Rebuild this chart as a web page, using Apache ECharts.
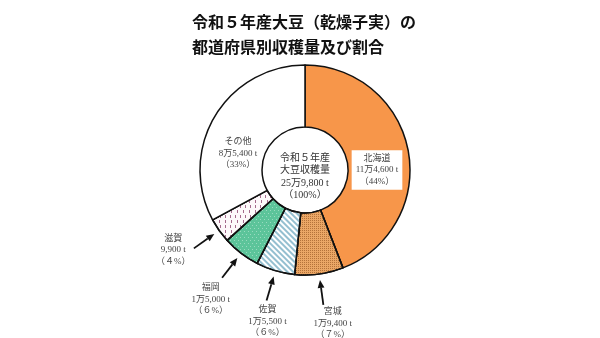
<!DOCTYPE html>
<html><head><meta charset="utf-8">
<script src="https://cdn.jsdelivr.net/npm/echarts@6/dist/echarts.min.js"></script>
<style>html,body{margin:0;padding:0;background:#fff}#c{width:600px;height:338px}</style>
</head><body><div id="c"></div>
<script>
// ---- data ----
const categories = ['北海道', '宮城', '佐賀', '福岡', '滋賀', 'その他'];
const values = [114600, 19400, 15500, 15000, 9900, 85400];
const titleLines = ['令和５年産大豆（乾燥子実）の', '都道府県別収穫量及び割合'];
const centerLines = ['令和５年産', '大豆収穫量'];

// ---- layout ----
const CX = 305, CY = 170, R0 = 43, R1 = 105;
const FONT = '"Liberation Serif", "Noto Sans CJK JP", serif';
const total = values.reduce((a, b) => a + b, 0);

function fmtTon(v) {
  const man = Math.floor(v / 10000), rest = v % 10000;
  const r = rest.toLocaleString('en-US');
  return (man > 0 ? man + '万' + r : r) + ' t';
}
function fmtPct(v) {
  const p = Math.round(v / total * 100);
  const s = p < 10 ? String.fromCharCode(0xFF10 + p) : String(p);
  return '（' + s + '%）';
}
// mid angles (degrees clockwise from top)
const mids = [];
{ let acc = 0; values.forEach(v => { const a = v / total * 360; mids.push(acc + a / 2); acc += a; }); }
function pt(deg, r) { const t = deg * Math.PI / 180; return [CX + r * Math.sin(t), CY - r * Math.cos(t)]; }

// label placement: inside ones by [angle, radius], outside ones along mid angle
const labelPlace = [
  [90, 72], null, null, null, null, [284, 69]
];
const outerAdj = [0, -2.5, -2.5, -1.5, 4, 0];
const outerR = [0, 156, 156, 160, 154, 0];

const decals = [
  null,
  { symbol: 'rect', symbolSize: 1, color: '#B5733A', dashArrayX: [1, 1], dashArrayY: [1, 1] },
  { symbol: 'rect', symbolSize: 1, color: '#94BFD0', dashArrayX: [1, 0], dashArrayY: [1.5, 2], rotation: Math.PI / 4 },
  { symbol: 'circle', symbolSize: 0.9, color: '#D8F2E6', dashArrayX: [[1, 3], [0, 2, 1, 1]], dashArrayY: [1, 2] },
  { symbol: 'rect', symbolSize: 1, color: '#A46A8C', dashArrayX: [[1, 4], [0, 2.5, 1, 1.5]], dashArrayY: [3, 2] },
  null
];
const colors = ['#F7964A', '#EBA766', '#FFFFFF', '#5CC49A', '#FDF8FA', '#FFFFFF'];

const data = categories.map((c, i) => ({
  name: c,
  value: values[i],
  itemStyle: { color: colors[i], decal: decals[i] || undefined },
  label: i === 0 ? { backgroundColor: '#fff', padding: [3, 4, 2, 4] } : {}
}));

// arrows for outside labels
const graphics = [];
for (let i = 1; i <= 4; i++) {
  const a = mids[i];
  const tip = pt(a, 111), tail = pt(a, 136);
  const base = pt(a, 119);
  const t = a * Math.PI / 180;
  const px = Math.cos(t) * 3.4, py = Math.sin(t) * 3.4;
  graphics.push({ type: 'line', shape: { x1: tail[0], y1: tail[1], x2: base[0], y2: base[1] }, style: { stroke: '#111', lineWidth: 1.8 }, z: 10 });
  graphics.push({ type: 'polygon', shape: { points: [tip, [base[0] + px, base[1] + py], [base[0] - px, base[1] - py]] }, style: { fill: '#111' }, z: 10 });
}
graphics.push({
  type: 'text', x: CX, y: CY + 7, z: 10,
  style: {
    text: centerLines.concat([fmtTon(total), fmtPct(total)]).join('\n'),
    fontFamily: FONT, fontSize: 10, lineHeight: 12.5, fill: '#333',
    align: 'center', verticalAlign: 'middle'
  }
});

const chart = echarts.init(document.getElementById('c'), null, { renderer: 'canvas' });
chart.setOption({
  backgroundColor: '#fff',
  animation: false,
  title: {
    text: titleLines.join('\n'), left: 187, top: 4,
    textStyle: { fontFamily: '"Noto Sans CJK JP"', fontSize: 16, fontWeight: 'bold', lineHeight: 25, color: '#111' }
  },
  graphic: graphics,
  series: [{
    type: 'pie',
    center: [CX, CY],
    radius: [R0, R1],
    startAngle: 90,
    clockwise: true,
    avoidLabelOverlap: false,
    itemStyle: { borderColor: '#111', borderWidth: 1.5 },
    emphasis: { disabled: true },
    label: {
      show: true, position: 'outside',
      fontFamily: FONT, fontSize: 9, lineHeight: 11.5, color: '#444', align: 'center',
      formatter: p => p.name + '\n' + fmtTon(p.value) + '\n' + fmtPct(p.value)
    },
    labelLine: { show: false },
    labelLayout: p => {
      const i = p.dataIndex;
      let xy;
      if (labelPlace[i]) xy = pt(labelPlace[i][0], labelPlace[i][1]);
      else xy = pt(mids[i] + outerAdj[i], outerR[i]);
      return { x: xy[0], y: xy[1], align: 'center', verticalAlign: 'middle' };
    },
    data: data
  }]
});
</script>
</body></html>
